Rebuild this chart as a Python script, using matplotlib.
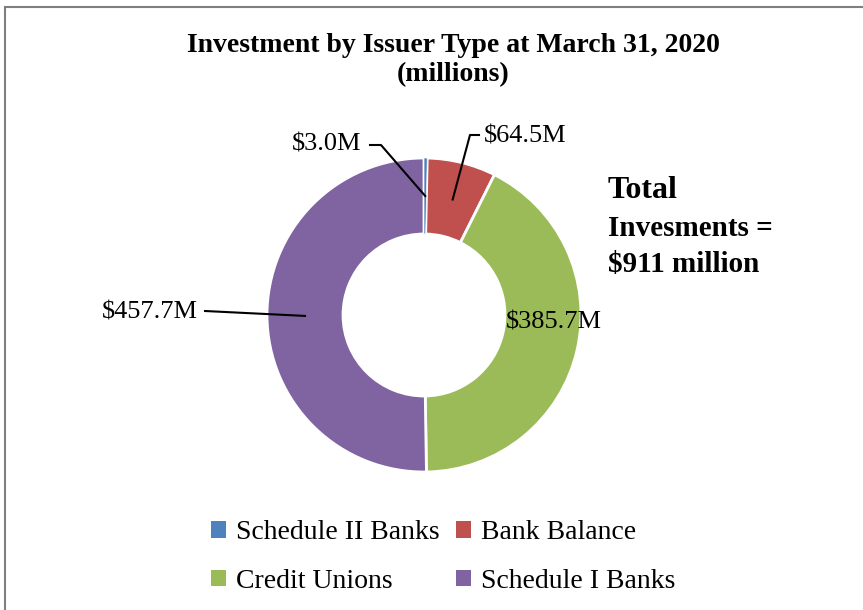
import numpy as np
import matplotlib.pyplot as plt
from matplotlib.patches import Patch, Rectangle

issuers = ['Schedule II Banks', 'Bank Balance', 'Credit Unions', 'Schedule I Banks']
amounts = [3.0, 64.5, 385.7, 457.7]          # $ millions
labels = ['$3.0M', '$64.5M', '$385.7M', '$457.7M']
colors = ['#4F81BD', '#C0504D', '#9BBB59', '#8064A2']
total = 911

W, H = 863, 610
plt.rcParams['font.family'] = ['Liberation Serif', 'DejaVu Serif']

fig = plt.figure(figsize=(W/100, H/100), dpi=100)
ax = fig.add_axes([0, 0, 1, 1])

# donut, centre and radius in pixel units (y measured from the bottom)
cx, cy, r_out, ring = 424, H - 315, 157, 76
wedges, _ = ax.pie(amounts, colors=colors, startangle=90, counterclock=False,
                   center=(cx, cy), radius=r_out,
                   wedgeprops=dict(width=ring, edgecolor='white', linewidth=2))
# keep the thin sliver visible on top of its neighbours' white edges
wedges[0].set_linewidth(0.5)
wedges[0].set_zorder(3)
ax.set_xlim(0, W)
ax.set_ylim(0, H)
ax.set_aspect('equal')
ax.axis('off')

# point in the middle of the ring for each wedge
r_mid = r_out - ring/2
def anchor(w):
    a = np.radians((w.theta1 + w.theta2)/2)
    return cx + r_mid*np.cos(a), cy + r_mid*np.sin(a)

lw = 1.5
# $3.0M
x0, y0 = anchor(wedges[0])
ax.plot([370, 381, x0], [H-145, H-145, y0], color='black', lw=lw, zorder=4)
ax.text(327, H-145, labels[0], fontsize=19, ha='center', va='center')
# $64.5M
x1, y1 = anchor(wedges[1])
ax.plot([479, 470, x1], [H-135, H-135, y1], color='black', lw=lw, zorder=4)
ax.text(525, H-137, labels[1], fontsize=19, ha='center', va='center')
# $385.7M
ax.text(554, H-323, labels[2], fontsize=19, ha='center', va='center')
# $457.7M
x3, y3 = anchor(wedges[3])
ax.plot([205, x3], [H-311, y3], color='black', lw=lw, zorder=4)
ax.text(150, H-312, labels[3], fontsize=19, ha='center', va='center')

# title
ax.text(453, H-45, 'Investment by Issuer Type at March 31, 2020', fontsize=20,
        fontweight='bold', ha='center', va='center')
ax.text(453, H-75, '(millions)', fontsize=20, fontweight='bold',
        ha='center', va='center')

# total note
ax.text(608, H-190, 'Total', fontsize=23, fontweight='bold', ha='left', va='center')
ax.text(608, H-228, 'Invesments =', fontsize=21, fontweight='bold', ha='left', va='center')
ax.text(608, H-264, '$%d million' % total, fontsize=21, fontweight='bold',
        ha='left', va='center')

# legend (ncol fills by column, so reorder)
order = [0, 2, 1, 3]
handles = [Patch(facecolor=colors[i], edgecolor='none') for i in order]
ax.legend(handles, [issuers[i] for i in order], ncol=2, frameon=False,
          fontsize=20, loc='center', bbox_to_anchor=(443/W, 1 - 557/H),
          handlelength=0.55, handleheight=0.55, handletextpad=0.35,
          columnspacing=0.6, labelspacing=0.85)

# chart border
fig.patches.append(Rectangle((5/W, -0.1), 1.2, 1 - 7/H + 0.1, transform=fig.transFigure,
                             fill=False, edgecolor='#7f7f7f', lw=1.5))

plt.savefig('out.png', dpi=100)
